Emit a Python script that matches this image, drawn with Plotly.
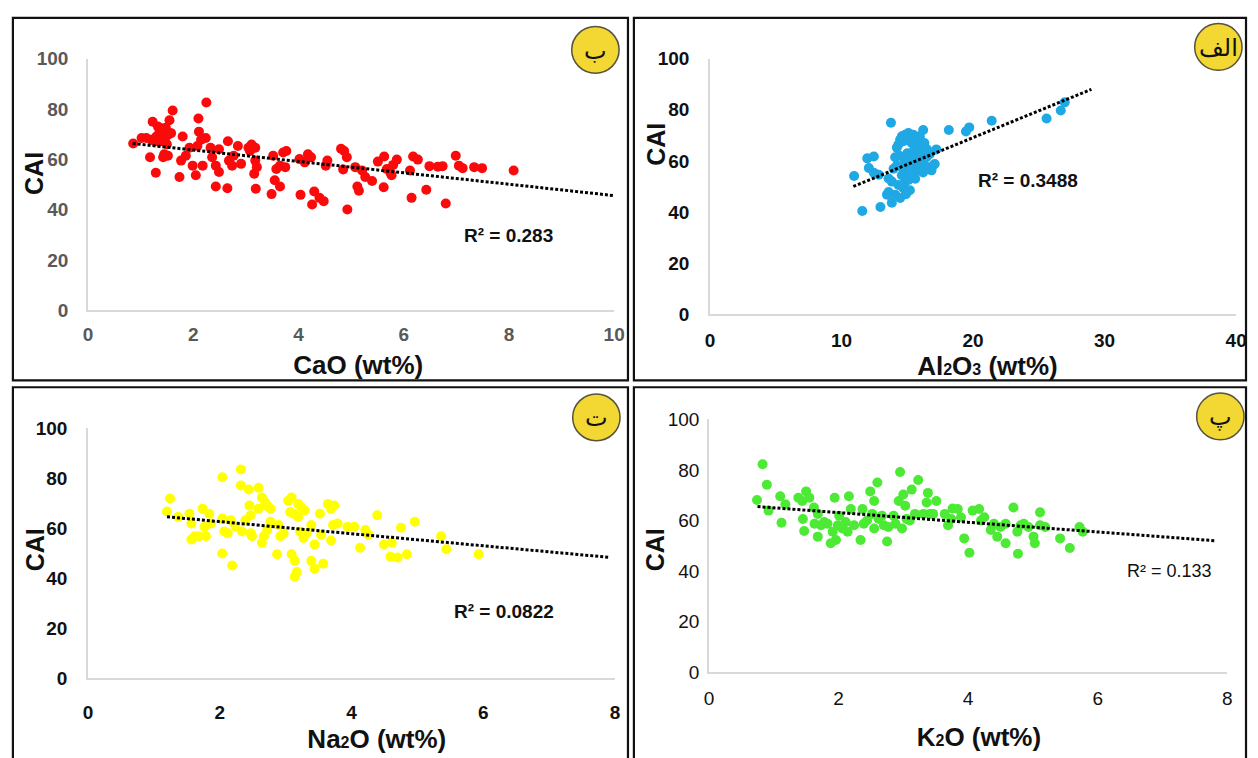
import plotly.graph_objects as go

W, H = 1258, 758

# ---------------- data ----------------
cao_x = [0.86, 1.02, 1.11, 1.21, 1.30, 1.36, 1.43, 1.46, 1.52, 1.58, 1.23, 1.33, 1.39, 1.55, 1.61,
         1.18, 1.29, 1.43, 1.52, 1.46, 1.27, 1.80, 1.77, 1.74, 1.86, 1.93, 1.99, 2.05, 2.08, 2.11,
         2.10, 2.15, 2.24, 2.25, 2.18, 2.33, 2.36, 2.43, 2.49, 2.49, 2.43, 2.65, 2.66, 2.68, 2.74,
         2.77, 2.85, 2.91, 3.05, 3.08, 3.11, 3.18, 3.18, 3.16, 3.21, 3.19, 3.52, 3.55, 3.49, 3.65,
         3.58, 3.65, 3.71, 3.77, 3.75, 4.02, 4.04, 4.12, 4.18, 4.24, 4.30, 4.26, 4.40, 4.48, 4.55,
         4.52, 4.81, 4.87, 4.92, 4.85, 4.93, 5.08, 5.12, 5.15, 5.21, 5.27, 5.40, 5.51, 5.63, 5.62,
         5.68, 5.75, 5.80, 5.87, 5.77, 6.12, 6.15, 6.18, 6.27, 6.43, 6.49, 6.65, 6.74, 6.80, 6.99,
         7.05, 7.12, 7.34, 7.49, 8.09, 1.40, 1.48, 1.35, 1.55, 1.50, 1.45]
cao_y = [66.3, 68.5, 68.5, 67.8, 69.1, 70.4, 71.7, 68.5, 69.8, 70.4, 74.9, 73.0, 72.3, 75.5, 79.4,
         60.8, 54.7, 60.8, 61.4, 67.2, 67.2, 69.1, 59.5, 53.0, 61.4, 64.6, 57.5, 53.7, 65.3, 71.0,
         76.2, 67.8, 68.5, 82.6, 57.5, 64.6, 60.8, 57.5, 55.0, 64.0, 49.2, 48.5, 67.2, 59.5, 57.5,
         61.4, 65.3, 58.2, 64.6, 63.3, 65.9, 64.6, 59.5, 54.3, 56.9, 48.3, 61.4, 51.7, 46.2, 49.2,
         56.2, 57.5, 62.7, 63.3, 56.9, 60.1, 45.9, 58.8, 62.0, 60.8, 47.2, 42.1, 44.7, 43.4, 59.5,
         57.5, 64.2, 63.3, 60.8, 56.0, 40.1, 56.9, 49.2, 47.5, 55.6, 53.0, 51.4, 59.1, 61.1, 48.9,
         56.2, 54.7, 57.8, 59.9, 53.7, 55.6, 44.7, 61.1, 59.9, 47.9, 57.3, 57.1, 57.3, 42.5, 61.4,
         57.5, 56.5, 56.9, 56.5, 55.6, 69.5, 72.5, 67.0, 70.5, 66.0, 62.0]

al_x = [10.96, 11.58, 11.96, 12.46, 12.08, 12.46, 12.83, 12.96, 13.46, 13.58, 13.76, 13.83, 14.08,
        14.21, 14.21, 14.33, 14.46, 14.59, 14.71, 14.84, 14.96, 15.09, 15.21, 15.34, 15.46, 15.59,
        15.71, 15.84, 15.96, 16.09, 16.21, 15.96, 15.59, 15.21, 14.96, 14.84, 14.71, 14.46, 14.59,
        15.09, 15.46, 15.71, 16.09, 16.34, 16.59, 16.84, 16.96, 17.09, 17.21, 16.71, 16.46, 13.96,
        13.83, 14.08, 14.33, 13.58, 18.16, 19.46, 19.71, 21.42, 25.59, 26.67, 26.97,
        15.0, 15.5, 16.0, 14.8, 15.3, 16.3, 14.6, 15.8, 16.5, 14.4, 15.2, 14.9, 15.6, 16.2]
al_y = [54.1, 40.4, 61.0, 61.7, 57.2, 55.4, 54.6, 42.0, 46.8, 47.8, 74.9, 43.6, 61.4,
        58.2, 65.2, 66.4, 68.3, 69.6, 67.7, 70.2, 69.0, 70.9, 69.6, 67.0, 70.2, 68.3,
        66.4, 67.7, 69.6, 65.2, 72.1, 62.0, 60.1, 58.2, 55.7, 51.9, 49.3, 45.5, 54.4,
        52.5, 54.4, 56.3, 58.8, 58.2, 56.9, 56.3, 58.2, 58.8, 64.5, 62.6, 61.4, 56.9,
        51.9, 46.8, 50.6, 53.1, 72.1, 71.5, 73.1, 75.7, 76.6, 79.7, 82.9,
        63.0, 64.0, 60.0, 60.5, 61.5, 67.0, 57.5, 59.0, 64.5, 62.0, 48.5, 47.0, 53.0, 55.5]

na_x = [1.20, 1.245, 1.37, 1.54, 1.57, 1.57, 1.62, 1.69, 1.74, 1.77, 1.79, 1.84, 1.87, 2.04, 2.04,
        2.04, 2.07, 2.12, 2.17, 2.19, 2.24, 2.32, 2.32, 2.34, 2.39, 2.44, 2.45, 2.47, 2.47, 2.49,
        2.59, 2.59, 2.64, 2.64, 2.69, 2.72, 2.74, 2.77, 2.67, 2.72, 2.77, 2.87, 2.89, 2.92, 2.97,
        3.04, 3.07, 3.09, 3.12, 3.09, 3.14, 3.17, 3.14, 3.19, 3.19, 3.24, 3.29, 3.22, 3.27, 3.32,
        3.39, 3.39, 3.44, 3.44, 3.54, 3.57, 3.52, 3.64, 3.69, 3.74, 3.72, 3.69, 3.79, 3.94, 4.04,
        4.13, 4.21, 4.26, 4.39, 4.49, 4.59, 4.61, 4.70, 4.75, 4.84, 4.96, 5.36, 5.44, 5.93]
na_y = [66.6, 71.8, 64.4, 65.7, 61.8, 55.4, 56.7, 56.7, 67.7, 60.5, 56.7, 65.7, 61.8, 80.3, 63.8,
        49.8, 58.6, 57.9, 63.1, 45.0, 60.5, 83.4, 77.0, 58.6, 63.1, 75.4, 69.0, 57.9, 65.1, 56.7,
        76.1, 67.7, 72.2, 54.1, 70.2, 69.0, 68.3, 67.7, 56.7, 59.2, 62.5, 49.5, 61.2, 56.7, 57.9,
        70.9, 66.4, 72.2, 65.7, 49.5, 46.9, 42.4, 40.5, 69.6, 64.4, 68.3, 67.0, 58.6, 56.0, 57.9,
        61.2, 46.9, 43.7, 53.4, 57.3, 45.7, 65.7, 69.6, 67.7, 69.0, 61.2, 55.0, 61.8, 60.5, 60.5,
        52.1, 59.2, 57.3, 65.1, 53.4, 48.5, 54.1, 48.2, 60.1, 49.5, 62.5, 56.7, 51.5, 49.5]

k_x = [0.742, 0.828, 0.894, 0.920, 1.10, 1.12, 1.18, 1.38, 1.44, 1.45, 1.47, 1.50, 1.55, 1.62, 1.63,
       1.68, 1.68, 1.73, 1.78, 1.83, 1.88, 1.91, 1.94, 1.96, 1.99, 2.01, 2.06, 2.11, 2.14, 2.16,
       2.19, 2.24, 2.34, 2.37, 2.39, 2.44, 2.49, 2.52, 2.55, 2.55, 2.60, 2.62, 2.67, 2.70, 2.75,
       2.77, 2.85, 2.88, 2.93, 2.95, 2.98, 3.00, 3.03, 3.05, 3.10, 3.13, 3.18, 3.23, 3.31, 3.36,
       3.38, 3.41, 3.46, 3.51, 3.64, 3.69, 3.74, 3.76, 3.84, 3.89, 3.94, 4.02, 4.07, 4.17, 4.20,
       4.25, 4.35, 4.40, 4.45, 4.50, 4.58, 4.58, 4.70, 4.76, 4.77, 4.81, 4.86, 4.93, 5.01, 5.03,
       5.11, 5.11, 5.19, 5.42, 5.57, 5.72, 5.77]
k_y = [68.1, 82.2, 74.1, 63.9, 69.6, 59.1, 66.4, 69.0, 67.7, 60.6, 55.8, 71.5, 69.0, 65.1, 58.7,
       53.6, 62.6, 58.1, 59.4, 58.7, 51.0, 55.5, 69.0, 52.3, 58.1, 61.9, 56.8, 59.4, 55.5, 69.6,
       64.5, 58.1, 52.3, 64.5, 58.7, 60.0, 71.5, 62.6, 67.7, 56.8, 75.0, 60.6, 61.9, 58.1, 51.7,
       57.4, 61.9, 58.7, 67.7, 79.2, 56.8, 70.3, 65.8, 60.6, 60.0, 72.2, 62.6, 76.0, 62.6, 67.1,
       70.9, 62.6, 62.6, 67.7, 62.6, 58.1, 60.6, 64.7, 64.5, 61.3, 52.9, 47.2, 63.9, 64.5, 60.0,
       61.3, 56.2, 58.7, 53.6, 57.4, 51.0, 58.7, 65.1, 55.5, 46.8, 58.1, 58.7, 57.4, 53.6, 51.0,
       63.2, 58.1, 57.4, 52.9, 49.1, 57.4, 55.5]

# trend line end points
cao_trend_x, cao_trend_y = [0.85, 10.0], [66.3, 45.6]
al_trend_x, al_trend_y = [10.9, 29.0], [50.0, 88.0]
na_trend_x, na_trend_y = [1.2, 7.9], [64.5, 48.3]
k_trend_x, k_trend_y = [0.75, 7.8], [65.5, 52.0]

r2_labels = ["R² = 0.283", "R² = 0.3488", "R² = 0.0822", "R² = 0.133"]
badges = ["ب", "الف", "ت", "پ"]
y_ticks = [0, 20, 40, 60, 80, 100]
cao_ticks = [0, 2, 4, 6, 8, 10]
al_ticks = [0, 10, 20, 30, 40]
na_ticks = [0, 2, 4, 6, 8]
k_ticks = [0, 2, 4, 6, 8]

FONT = "Liberation Sans, Arial, sans-serif"


def fx(px):
    return px / W


def fy(py):
    return 1 - py / H


fig = go.Figure()

panels = [
    (cao_x, cao_y, cao_trend_x, cao_trend_y, "#fa0a0a", ""),
    (al_x, al_y, al_trend_x, al_trend_y, "#1fa8e4", "2"),
    (na_x, na_y, na_trend_x, na_trend_y, "#ffff00", "3"),
    (k_x, k_y, k_trend_x, k_trend_y, "#4dea35", "4"),
]
for xs, ys, tx, ty, col, s in panels:
    fig.add_trace(go.Scatter(x=xs, y=ys, mode="markers", xaxis="x" + s, yaxis="y" + s,
                             marker=dict(color=col, size=10, line=dict(width=0)),
                             showlegend=False, hoverinfo="x+y"))
    fig.add_trace(go.Scatter(x=tx, y=ty, mode="lines", xaxis="x" + s, yaxis="y" + s,
                             line=dict(color="black", width=3, dash="3px,2px"),
                             showlegend=False, hoverinfo="skip"))

sub = "<span style='font-size:16px'>{}</span>"
xtitles = ["CaO (wt%)", "Al" + sub.format("2") + "O" + sub.format("3") + " (wt%)",
           "Na" + sub.format("2") + "O (wt%)", "K" + sub.format("2") + "O (wt%)"]
# leading non-breaking spaces nudge each title right, as in the original
title_pad = [2, 4, 7, 3]

axes = [
    # xpx0, xpx1, ypx_top, ypx_bottom, xrange, xticks, tickcolor, bold, xstand, ystand, title standoff
    (84, 617, 50, 309, [0, 10], cao_ticks, "#595959", True, 6, 14, 12),
    (714, 1247, 50, 313, [0, 40], al_ticks, "#111111", True, 8, 15, 2),
    (84, 618, 430, 687, [0, 8], na_ticks, "#111111", True, 16, 15, 8),
    (713, 1238, 421, 681, [0, 8], k_ticks, "#111111", False, 8, 4, 20),
]
layout_axes = {}
for i, (x0, x1, yt, yb, xr, xt, tc, bold, xs_, ys_, tso) in enumerate(axes):
    s = "" if i == 0 else str(i + 1)
    tf = dict(family=FONT, size=19, color=tc, weight="bold" if bold else "normal")
    layout_axes["xaxis" + s] = dict(
        domain=[fx(x0), fx(x1)], range=xr, tickvals=xt, anchor="y" + s,
        showline=True, linecolor="#d9d9d9", linewidth=1.5, showgrid=False, zeroline=False,
        ticks="", tickfont=tf, ticklabelstandoff=xs_, fixedrange=True,
        title=dict(text="&nbsp;" * title_pad[i] + "<b>" + xtitles[i] + "</b>", standoff=tso,
                   font=dict(family=FONT, size=26, color="#111")))
    layout_axes["yaxis" + s] = dict(
        domain=[fy(yb), fy(yt)], range=[0, 100], tickvals=y_ticks, anchor="x" + s,
        showline=True, linecolor="#d9d9d9", linewidth=1.5, showgrid=False, zeroline=False,
        ticks="", tickfont=tf, ticklabelstandoff=ys_, fixedrange=True)

shapes = []
frames = [(8, 631, 8, 381), (637, 1257, 8, 381), (8, 631, 388, 790), (637, 1257, 388, 790)]
for a, b, c, d in frames:
    shapes.append(dict(type="rect", xref="paper", yref="paper", x0=fx(a), x1=fx(b),
                       y0=fy(d), y1=fy(c), line=dict(color="#111111", width=2.2),
                       fillcolor="rgba(0,0,0,0)", layer="above"))
badge_pos = [(598, 41), (1229, 38), (599, 419), (1231, 418)]
for (cx, cy) in badge_pos:
    shapes.append(dict(type="circle", xref="paper", yref="paper",
                       x0=fx(cx - 24), x1=fx(cx + 24), y0=fy(cy + 24), y1=fy(cy - 24),
                       fillcolor="#f3d733", line=dict(color="#55533f", width=1.5)))

annotations = []
for (cx, cy), t in zip(badge_pos, badges):
    annotations.append(dict(text=t, x=fx(cx), y=fy(cy + 1), xref="paper", yref="paper",
                            showarrow=False, font=dict(family="DejaVu Sans", size=24, color="#111"),
                            xanchor="center", yanchor="middle"))

cai_pos = [(30, 168), (660, 138), (30, 555), (658, 555)]
for (cx, cy) in cai_pos:
    annotations.append(dict(text="<b>CAI</b>", x=fx(cx), y=fy(cy), xref="paper", yref="paper",
                            showarrow=False, textangle=-90, font=dict(family=FONT, size=25, color="#111"),
                            xanchor="center", yanchor="middle"))
r2_pos = [(510, 232), (1036, 175), (505, 619), (1180, 577)]
r2_bold = [True, True, True, False]
for (cx, cy), t, b in zip(r2_pos, r2_labels, r2_bold):
    annotations.append(dict(text=("<b>" + t + "</b>") if b else t, x=fx(cx), y=fy(cy),
                            xref="paper", yref="paper", showarrow=False,
                            font=dict(family=FONT, size=19 if b else 18, color="#111"),
                            xanchor="center", yanchor="middle"))

fig.update_layout(width=W, height=H, margin=dict(l=0, r=0, t=0, b=0),
                  paper_bgcolor="white", plot_bgcolor="white",
                  shapes=shapes, annotations=annotations, **layout_axes)

fig.write_html("out.html", config={"displayModeBar": False})
